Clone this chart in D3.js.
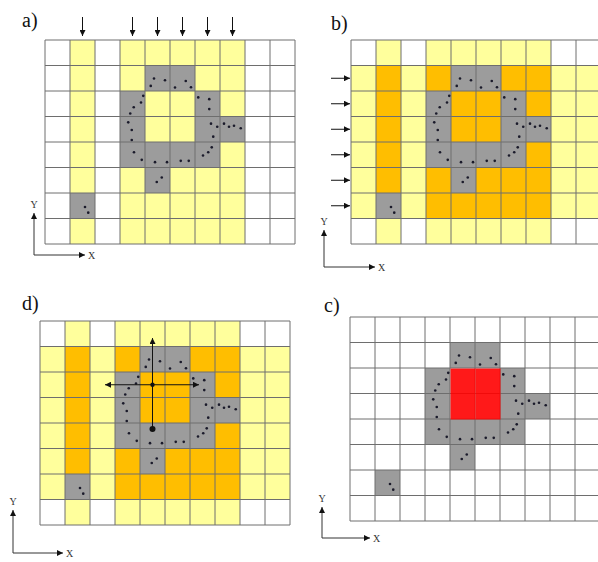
<!DOCTYPE html>
<html>
<head>
<meta charset="utf-8">
<script src="https://cdn.jsdelivr.net/npm/d3@7"></script>
<style>
  body { margin: 0; background: #fff; }
  svg { display: block; }
</style>
</head>
<body>
<script>
// grid is 10 columns x 8 rows, row 0 on top
const cols = d3.range(10);
const rows = d3.range(8);

// occupied cells [col, row]
const grayCells = [[4,1],[5,1],[3,2],[6,2],[3,3],[6,3],[7,3],[3,4],[4,4],[5,4],[6,4],[4,5],[1,6]];
// columns and rows that hold at least one occupied cell
const activeCols = [1, 3, 4, 5, 6, 7];
const activeRows = [1, 2, 3, 4, 5, 6];
// hole cells found in c)
const redCells = [[4,2],[5,2],[4,3],[5,3]];

// sample points in grid units [col, row]
const points = [
  [4.36,1.51],[4.23,1.80],[4.80,1.58],[5.20,1.86],[5.63,1.61],[5.84,1.85],
  [3.93,2.19],[3.84,2.45],[3.55,2.64],[3.41,2.88],[6.13,2.25],[6.57,2.32],[6.57,2.71],
  [3.33,3.23],[3.47,3.53],[3.47,3.92],[6.64,3.28],[6.89,3.40],[7.16,3.28],[7.36,3.40],
  [7.56,3.36],[7.83,3.46],[6.73,3.79],
  [3.56,4.40],[3.87,4.70],[4.40,4.79],[4.88,4.79],[5.43,4.74],[5.75,4.74],[6.32,4.53],
  [6.53,4.40],[6.67,4.21],
  [4.67,5.39],[4.47,5.57],
  [1.60,6.55],[1.73,6.77]
];

// d) scan cross: centre, up tip, bottom dot, left tip, right tip
const crossCentre = [4.5, 2.5];
const crossUp = [4.5, 0.67];
const crossDown = [4.5, 4.24];
const crossLeft = [2.6, 2.5];
const crossRight = [6.36, 2.5];

const panels = [
  { id: 'a', label: 'a)', x0: 45, y0: 40, lx: 22, ly: 27, mode: 'a',
    axis: { x: 34, top: 213, bottom: 255, right: 85 } },
  { id: 'b', label: 'b)', x0: 351, y0: 40, lx: 331, ly: 30, mode: 'b',
    axis: { x: 324, top: 230, bottom: 267, right: 375 } },
  { id: 'd', label: 'd)', x0: 40, y0: 321, lx: 22, ly: 310, mode: 'b',
    axis: { x: 13, top: 510, bottom: 553, right: 63 } },
  { id: 'c', label: 'c)', x0: 350, y0: 317, lx: 324, ly: 312, mode: 'c',
    axis: { x: 322, top: 507, bottom: 538, right: 370 } }
];

const W = 598, H = 562;
const cellW = 25, cellH = 25.5;

const YELLOW = '#ffff9c', ORANGE = '#ffbe00', GRAY = '#9c9c9c', RED = '#ff0000';

const svg = d3.select('body').append('svg')
  .attr('width', W).attr('height', H);

const defs = svg.append('defs');
defs.append('marker')
  .attr('id', 'head')
  .attr('viewBox', '0 0 10 10')
  .attr('refX', 10).attr('refY', 5)
  .attr('markerWidth', 7).attr('markerHeight', 6)
  .attr('markerUnits', 'userSpaceOnUse')
  .attr('orient', 'auto')
  .append('path')
  .attr('d', 'M0,0 L10,5 L0,10 Z')
  .attr('fill', '#111');

const isIn = (list, c, r) => list.some(d => d[0] === c && d[1] === r);

function cellColor(mode, c, r) {
  if (isIn(grayCells, c, r)) return GRAY;
  if (mode === 'c') return '#fff';
  const colOn = activeCols.includes(c);
  if (mode === 'a') return colOn ? YELLOW : '#fff';
  const rowOn = activeRows.includes(r);
  if (colOn && rowOn) return ORANGE;
  if (colOn || rowOn) return YELLOW;
  return '#fff';
}

function arrow(g, x1, y1, x2, y2) {
  g.append('line')
    .attr('x1', x1).attr('y1', y1).attr('x2', x2).attr('y2', y2)
    .attr('stroke', '#111').attr('stroke-width', 1)
    .attr('marker-end', 'url(#head)');
}

panels.forEach(p => {
  const x = d3.scaleLinear().domain([0, 10]).range([p.x0, p.x0 + 10 * cellW]);
  const y = d3.scaleLinear().domain([0, 8]).range([p.y0, p.y0 + 8 * cellH]);
  const g = svg.append('g').attr('class', 'panel-' + p.id);

  // cells
  const cells = [];
  rows.forEach(r => cols.forEach(c => cells.push({ c, r })));
  g.selectAll('rect.cell')
    .data(cells)
    .enter().append('rect')
    .attr('class', 'cell')
    .attr('x', d => x(d.c)).attr('y', d => y(d.r))
    .attr('width', cellW).attr('height', cellH)
    .attr('fill', d => cellColor(p.mode, d.c, d.r));

  // grid lines
  g.selectAll('line.v')
    .data(d3.range(11))
    .enter().append('line')
    .attr('x1', d => x(d)).attr('x2', d => x(d))
    .attr('y1', y(0)).attr('y2', y(8))
    .attr('stroke', '#6e6e6e').attr('stroke-width', 1);
  g.selectAll('line.h')
    .data(d3.range(9))
    .enter().append('line')
    .attr('y1', d => y(d)).attr('y2', d => y(d))
    .attr('x1', x(0)).attr('x2', x(10))
    .attr('stroke', '#6e6e6e').attr('stroke-width', 1);

  // red hole cells sit over the grid, lines only faintly showing through
  if (p.mode === 'c') {
    g.selectAll('rect.hole')
      .data(redCells)
      .enter().append('rect')
      .attr('class', 'hole')
      .attr('x', d => x(d[0]) + 0.5).attr('y', d => y(d[1]) + 0.5)
      .attr('width', cellW).attr('height', cellH)
      .attr('fill', RED).attr('fill-opacity', 0.9);
  }

  // points
  g.selectAll('circle.pt')
    .data(points)
    .enter().append('circle')
    .attr('cx', d => x(d[0])).attr('cy', d => y(d[1]))
    .attr('r', 1.3)
    .attr('fill', '#1a1a2a');

  // scan arrows
  if (p.id === 'a') {
    activeCols.forEach(c => arrow(g, x(c + 0.5), 17, x(c + 0.5), 36));
  }
  if (p.id === 'b') {
    activeRows.forEach(r => arrow(g, 331, y(r + 0.5), 350, y(r + 0.5)));
  }
  if (p.id === 'd') {
    arrow(g, x(crossDown[0]), y(crossDown[1]), x(crossUp[0]), y(crossUp[1]));
    arrow(g, x(crossCentre[0]), y(crossCentre[1]), x(crossLeft[0]), y(crossLeft[1]));
    arrow(g, x(crossCentre[0]), y(crossCentre[1]), x(crossRight[0]), y(crossRight[1]));
    g.append('circle').attr('cx', x(crossCentre[0])).attr('cy', y(crossCentre[1]))
      .attr('r', 2.2).attr('fill', '#111');
    g.append('circle').attr('cx', x(crossDown[0])).attr('cy', y(crossDown[1]))
      .attr('r', 3).attr('fill', '#111');
  }

  // panel label
  g.append('text')
    .attr('x', p.lx).attr('y', p.ly)
    .attr('font-family', '"Liberation Serif", "Times New Roman", serif')
    .attr('font-size', 20)
    .attr('fill', '#111')
    .text(p.label);

  // little XY axes
  const a = p.axis;
  const ag = g.append('g').attr('class', 'xy');
  ag.append('line').attr('x1', a.x).attr('y1', a.bottom).attr('x2', a.x).attr('y2', a.top)
    .attr('stroke', '#333').attr('stroke-width', 1).attr('marker-end', 'url(#head)');
  ag.append('line').attr('x1', a.x).attr('y1', a.bottom).attr('x2', a.right).attr('y2', a.bottom)
    .attr('stroke', '#333').attr('stroke-width', 1).attr('marker-end', 'url(#head)');
  ag.append('text').attr('x', a.x).attr('y', a.top - 5)
    .attr('text-anchor', 'middle')
    .attr('font-family', '"Liberation Serif", serif').attr('font-size', 10)
    .attr('fill', '#333').text('Y');
  ag.append('text').attr('x', a.right + 3).attr('y', a.bottom + 4)
    .attr('font-family', '"Liberation Serif", serif').attr('font-size', 10)
    .attr('fill', '#333').text('X');
});
</script>
</body>
</html>
